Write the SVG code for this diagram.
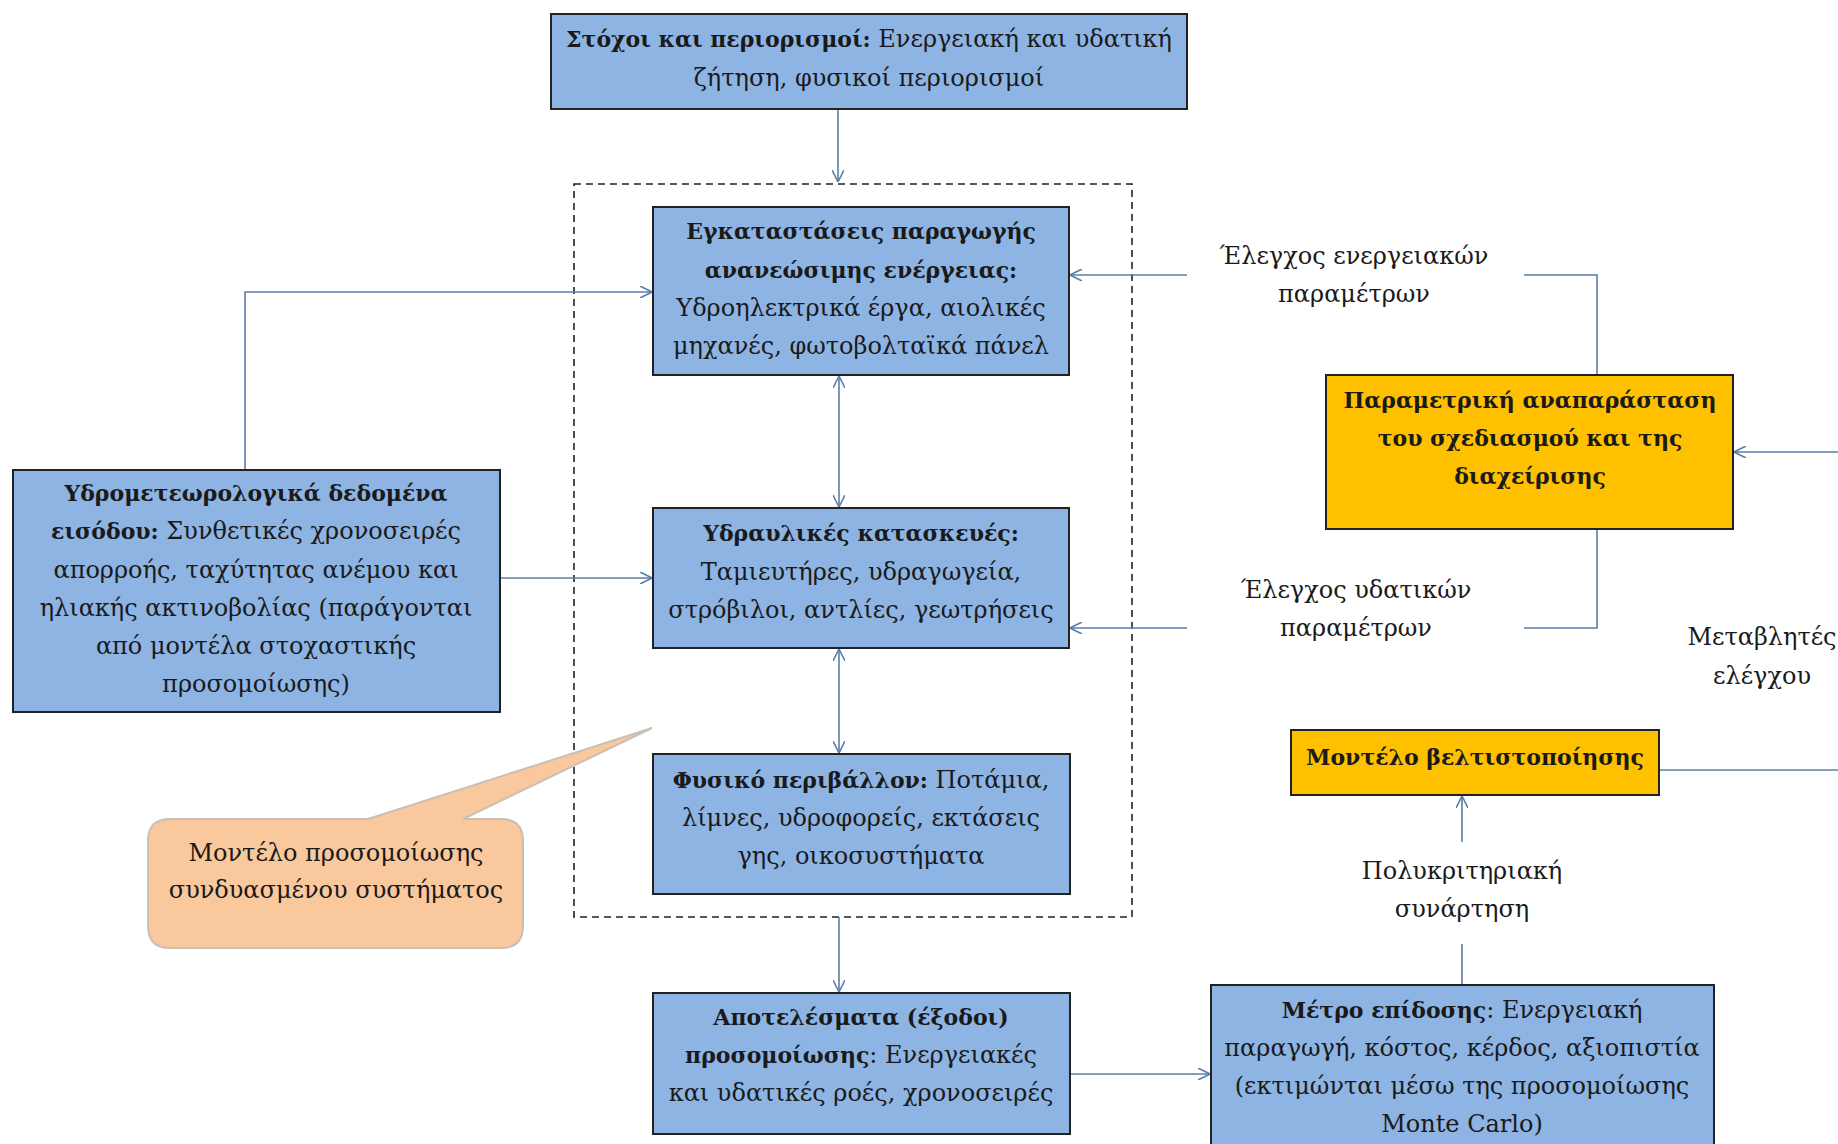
<svg xmlns="http://www.w3.org/2000/svg" width="1838" height="1144" viewBox="0 0 1838 1144" font-family="'DejaVu Serif', serif">
<defs>
<style>
text{font-family:'DejaVu Serif', serif;font-size:24px;fill:#1a1a1a;text-anchor:middle}
.b{font-weight:bold;font-size:22px}
.blue{fill:#8EB4E3;stroke:#222;stroke-width:2}
.orange{fill:#FFC000;stroke:#222;stroke-width:2}
.con{fill:none;stroke:#5B7FA8;stroke-width:1.6}
</style>
<marker id="ah" viewBox="0 0 12 12" refX="12" refY="6" markerWidth="12" markerHeight="12" markerUnits="userSpaceOnUse" orient="auto-start-reverse">
<path d="M0,0 L12,6 L0,12" fill="none" stroke="#5B7FA8" stroke-width="1.6"/>
</marker>
</defs>
<rect width="1838" height="1144" fill="#fff"/>

<g id="sim-boundary">
<rect x="574" y="184" width="558" height="733" fill="none" stroke="#222" stroke-width="1.6" stroke-dasharray="7 5"/>
</g>

<g id="connectors">
<line class="con" x1="838" y1="109" x2="838" y2="182" marker-end="url(#ah)"/>
<polyline class="con" points="245,470 245,292 652,292" marker-end="url(#ah)"/>
<line class="con" x1="500" y1="578" x2="652" y2="578" marker-end="url(#ah)"/>
<line class="con" x1="839" y1="376" x2="839" y2="507" marker-start="url(#ah)" marker-end="url(#ah)"/>
<line class="con" x1="839" y1="649" x2="839" y2="753" marker-start="url(#ah)" marker-end="url(#ah)"/>
<line class="con" x1="839" y1="917" x2="839" y2="992" marker-end="url(#ah)"/>
<line class="con" x1="1187" y1="275" x2="1070" y2="275" marker-end="url(#ah)"/>
<polyline class="con" points="1524,275 1597,275 1597,375"/>
<polyline class="con" points="1597,529 1597,628 1524,628"/>
<line class="con" x1="1187" y1="628" x2="1070" y2="628" marker-end="url(#ah)"/>
<line class="con" x1="1659" y1="770" x2="1838" y2="770"/>
<line class="con" x1="1838" y1="452" x2="1734" y2="452" marker-end="url(#ah)"/>
<line class="con" x1="1462" y1="985" x2="1462" y2="944"/>
<line class="con" x1="1462" y1="842" x2="1462" y2="796" marker-end="url(#ah)"/>
<line class="con" x1="1071" y1="1074" x2="1210" y2="1074" marker-end="url(#ah)"/>
</g>

<g id="goals">
<rect class="blue" x="551" y="14" width="636" height="95"/>
<text x="869" y="47"><tspan class="b">Στόχοι και περιορισμοί:</tspan> Ενεργειακή και υδατική</text>
<text x="869" y="86">ζήτηση, φυσικοί περιορισμοί</text>
</g>

<g id="renewables">
<rect class="blue" x="653" y="207" width="416" height="168"/>
<text class="b" x="861" y="239">Εγκαταστάσεις παραγωγής</text>
<text class="b" x="861" y="278">ανανεώσιμης ενέργειας:</text>
<text x="861" y="316">Υδροηλεκτρικά έργα, αιολικές</text>
<text x="861" y="354">μηχανές, φωτοβολταϊκά πάνελ</text>
</g>

<g id="hydraulic">
<rect class="blue" x="653" y="508" width="416" height="140"/>
<text class="b" x="861" y="541">Υδραυλικές κατασκευές:</text>
<text x="861" y="580">Ταμιευτήρες, υδραγωγεία,</text>
<text x="861" y="618">στρόβιλοι, αντλίες, γεωτρήσεις</text>
</g>

<g id="environment">
<rect class="blue" x="653" y="754" width="417" height="140"/>
<text x="861" y="788"><tspan class="b">Φυσικό περιβάλλον:</tspan> Ποτάμια,</text>
<text x="861" y="826">λίμνες, υδροφορείς, εκτάσεις</text>
<text x="861" y="864">γης, οικοσυστήματα</text>
</g>

<g id="hydromet-input">
<rect class="blue" x="13" y="470" width="487" height="242"/>
<text class="b" x="256" y="501">Υδρομετεωρολογικά δεδομένα</text>
<text x="256" y="539"><tspan class="b">εισόδου:</tspan> Συνθετικές χρονοσειρές</text>
<text x="256" y="578">απορροής, ταχύτητας ανέμου και</text>
<text x="256" y="616">ηλιακής ακτινοβολίας (παράγονται</text>
<text x="256" y="654">από μοντέλα στοχαστικής</text>
<text x="256" y="692">προσομοίωσης)</text>
</g>

<g id="callout">
<path d="M170,819 L368,819 L652,728 L463,819 L501,819 Q523,819 523,841 L523,926 Q523,948 501,948 L170,948 Q148,948 148,926 L148,841 Q148,819 170,819 Z" fill="#F9C89D" stroke="#C9BFB5" stroke-width="2"/>
<text x="336" y="861">Μοντέλο προσομοίωσης</text>
<text x="336" y="898">συνδυασμένου συστήματος</text>
</g>

<g id="results">
<rect class="blue" x="653" y="993" width="417" height="141"/>
<text class="b" x="861" y="1025">Αποτελέσματα (έξοδοι)</text>
<text x="861" y="1063"><tspan class="b">προσομοίωσης</tspan>: Ενεργειακές</text>
<text x="861" y="1101">και υδατικές ροές, χρονοσειρές</text>
</g>

<g id="performance">
<rect class="blue" x="1211" y="985" width="503" height="170"/>
<text x="1462" y="1018"><tspan class="b">Μέτρο επίδοσης</tspan>: Ενεργειακή</text>
<text x="1462" y="1056">παραγωγή, κόστος, κέρδος, αξιοπιστία</text>
<text x="1462" y="1094">(εκτιμώνται μέσω της προσομοίωσης</text>
<text x="1462" y="1132">Monte Carlo)</text>
</g>

<g id="parametric">
<rect class="orange" x="1326" y="375" width="407" height="154"/>
<text class="b" x="1530" y="408">Παραμετρική αναπαράσταση</text>
<text class="b" x="1530" y="446">του σχεδιασμού και της</text>
<text class="b" x="1530" y="484">διαχείρισης</text>
</g>

<g id="optimization">
<rect class="orange" x="1291" y="730" width="368" height="65"/>
<text class="b" x="1475" y="765">Μοντέλο βελτιστοποίησης</text>
</g>

<g id="labels">
<text x="1354" y="264">Έλεγχος ενεργειακών</text>
<text x="1354" y="302">παραμέτρων</text>
<text x="1356" y="598">Έλεγχος υδατικών</text>
<text x="1356" y="636">παραμέτρων</text>
<text x="1762" y="645">Μεταβλητές</text>
<text x="1762" y="684">ελέγχου</text>
<text x="1462" y="879">Πολυκριτηριακή</text>
<text x="1462" y="917">συνάρτηση</text>
</g>
</svg>
